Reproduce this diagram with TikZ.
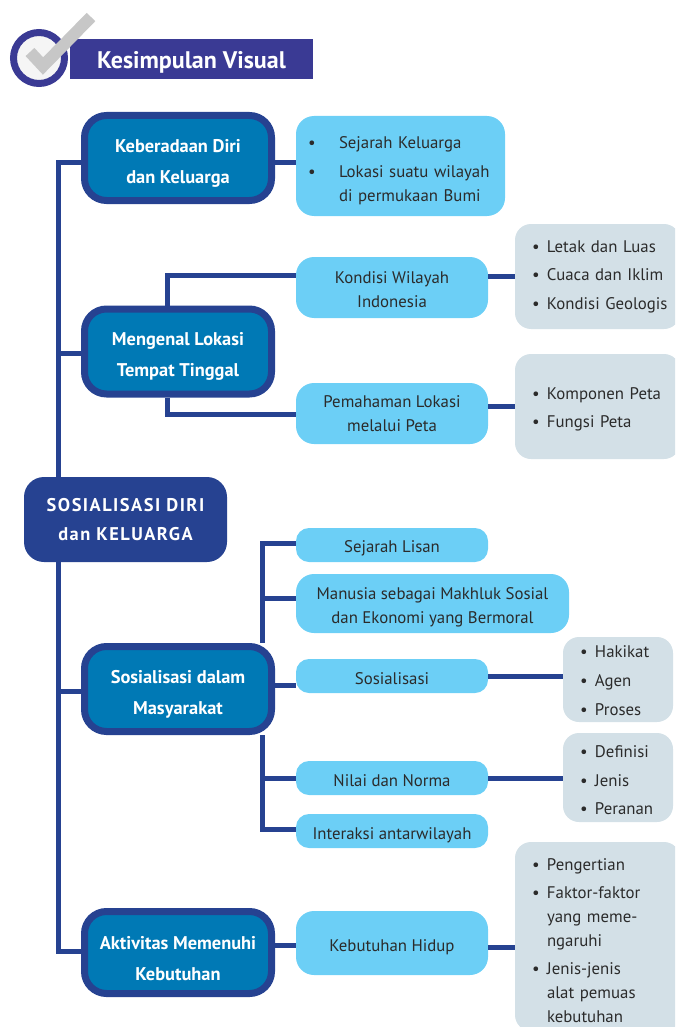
\documentclass[tikz,border=0pt]{standalone}
\usepackage{fontspec}
\setmainfont{PT Sans}
\definecolor{navy}{HTML}{264291}
\definecolor{banner}{HTML}{3A3A94}
\definecolor{teal}{HTML}{0079B5}
\definecolor{sky}{HTML}{6CCFF6}
\definecolor{mist}{HTML}{D3E0E7}
\definecolor{ink}{HTML}{2B2B2B}
\newcommand{\bul}{\hspace*{12pt}\makebox[15pt][l]{\textbullet}}
\newcommand{\ind}{\hspace*{27pt}}

\begin{document}
\begin{tikzpicture}[x=1pt,y=-1pt,
    link/.style={draw=navy,line width=5pt},
    drop/.style={execute at begin node={\rule{0pt}{#1pt}}},
    main node/.style={rounded corners=20pt,fill=navy,text=white,align=center,inner sep=0pt,minimum width=203pt,minimum height=85pt,font=\fontsize{18.4}{29}\selectfont\bfseries\addfontfeature{LetterSpace=8}},
    topic node/.style={rounded corners=22pt,fill=teal,draw=navy,line width=7pt,text=white,align=center,inner sep=0pt,minimum width=187pt,minimum height=85pt,drop=54,font=\fontsize{18.4}{31}\selectfont\bfseries},
    sub node/.style={rounded corners=13pt,fill=sky,text=ink,align=center,inner sep=0pt,minimum width=192pt,font=\fontsize{16.8}{24}\selectfont},
    list node/.style={rounded corners=16pt,fill=mist,text=ink,align=left,inner xsep=5pt,inner ysep=0pt,font=\fontsize{16.8}{24}\selectfont},
    wide list/.style={list node,text width=155pt},
    small list/.style={list node,text width=100pt}]
    \useasboundingbox (0,0) rectangle (675,1027);
    \clip (0,0) rectangle (675,1027);

    % heading
    \node[fill=banner,text=white,inner sep=0pt,minimum width=243pt,minimum height=40pt,drop=24,font=\fontsize{24}{28}\selectfont\bfseries] (banner) at (191.5,59) {Kesimpulan Visual};
    \node[circle,fill=white!96!black,draw=banner,line width=7pt,inner sep=0pt,minimum size=51pt] (tick) at (39,58) {};
    \draw[black!22,line width=12pt] (30,52) -- (43,66) -- (91,17);

    % centre and topics
    \node[main node] (root) at (125.5,519.5) {SOSIALISASI DIRI\\dan KELUARGA};
    \node[topic node] (diri) at (178,158) {Keberadaan Diri\\dan Keluarga};
    \node[topic node] (lokasi) at (178,351.5) {Mengenal Lokasi\\Tempat Tinggal};
    \node[topic node] (masyarakat) at (178,689) {Sosialisasi dalam\\Masyarakat};
    \node[topic node,minimum height=82pt,drop=56] (aktivitas) at (178,952.5) {Aktivitas Memenuhi\\Kebutuhan};

    % second level
    \node[sub node,align=left,minimum width=209pt,text width=209pt,minimum height=100pt,rounded corners=18pt,drop=22] (sejarah) at (400.5,166) {\hspace*{12pt}\makebox[31pt][l]{\textbullet}Sejarah Keluarga\\[5pt]
        \hspace*{12pt}\makebox[31pt][l]{\textbullet}Lokasi suatu wilayah\\
        \hspace*{43pt}di permukaan Bumi};
    \node[sub node,minimum height=61pt,rounded corners=18pt,drop=41] (kondisi) at (392,287.5) {Kondisi Wilayah\\Indonesia};
    \node[sub node,minimum height=61pt,rounded corners=18pt] (peta) at (392,413.5) {Pemahaman Lokasi\\melalui Peta};
    \node[sub node,minimum height=34pt,drop=18] (lisan) at (392,545) {Sejarah Lisan};
    \node[sub node,minimum width=273pt,minimum height=59pt,rounded corners=18pt,drop=43] (manusia) at (432.5,603.5) {Manusia sebagai Makhluk Sosial\\dan Ekonomi yang Bermoral};
    \node[sub node,minimum height=34pt,drop=18] (sosialisasi) at (392,676) {Sosialisasi};
    \node[sub node,minimum height=34pt,drop=18] (nilai) at (392,778) {Nilai dan Norma};
    \node[sub node,minimum height=34pt,drop=21] (interaksi) at (392,831) {Interaksi antarwilayah};
    \node[sub node,minimum height=64pt,rounded corners=18pt,drop=20] (hidup) at (392,943) {Kebutuhan Hidup};

    % third level
    \node[wide list,minimum height=105pt,font=\fontsize{16.8}{28.5}\selectfont] (wilayah) at (597.5,276.5) {\bul Letak dan Luas\\\bul Cuaca dan Iklim\\\bul Kondisi Geologis};
    \node[wide list,minimum height=105pt,drop=18,font=\fontsize{16.8}{28.5}\selectfont] (komponen) at (597.5,406.5) {\bul Komponen Peta\\\bul Fungsi Peta};
    \node[small list,minimum height=85pt,drop=14,font=\fontsize{16.8}{29}\selectfont] (hakikat) at (618,679.5) {\bul Hakikat\\\bul Agen\\\bul Proses};
    \node[small list,minimum height=89pt,drop=18,font=\fontsize{16.8}{28.5}\selectfont] (norma) at (618,777.5) {\bul Definisi\\\bul Jenis\\\bul Peranan};
    \node[wide list,minimum height=189pt,drop=20] (faktor) at (597.5,936.5) {\bul Pengertian\\[4pt]
        \bul Faktor-faktor\\\ind yang meme-\\\ind ngaruhi\\[4pt]
        \bul Jenis-jenis\\\ind alat pemuas\\\ind kebutuhan};

    % turning points of the lines
    \coordinate (t1) at (58,163);
    \coordinate (t2) at (58,353);
    \coordinate (t3) at (58,691);
    \coordinate (t4) at (58,951);
    \coordinate (b1) at (167,275);
    \coordinate (b2) at (167,414);
    \coordinate (c1) at (262,543);
    \coordinate (c2) at (262,598);
    \coordinate (c3) at (262,778);
    \coordinate (c4) at (262,829);
    \coordinate (r1) at (0,276);
    \coordinate (r2) at (0,406);
    \coordinate (r3) at (0,685);
    \coordinate (r4) at (0,676);
    \coordinate (r5) at (0,945);
    \coordinate (r6) at (0,947);

    \draw[link] (diri.west |- t1) -- (t1) -- (root.north -| t1);
    \draw[link] (root.south -| t4) -- (t4) -- (aktivitas.west |- t4);
    \draw[link] (lokasi.north -| b1) -- (b1) -- (kondisi.west |- b1);
    \draw[link] (lokasi.south -| b2) -- (b2) -- (peta.west |- b2);
    \draw[link] (lisan.west |- c1) -- (c1) -- (masyarakat.north -| c1);
    \draw[link] (masyarakat.south -| c4) -- (c4) -- (interaksi.west |- c4);

    \path[link]
        (t2) edge (lokasi.west |- t2)
        (t3) edge (masyarakat.west |- t3)
        (diri.east |- t1) edge (sejarah.west |- t1)
        (kondisi.east |- r1) edge (wilayah.west |- r1)
        (peta.east |- r2) edge (komponen.west |- r2)
        (c2) edge (manusia.west |- c2)
        (c3) edge (nilai.west |- c3)
        (masyarakat.east |- r3) edge (sosialisasi.west |- r3)
        (sosialisasi.east |- r4) edge (hakikat.west |- r4)
        (nilai.east |- c3) edge (norma.west |- c3)
        (aktivitas.east |- r5) edge (hidup.west |- r5)
        (hidup.east |- r6) edge (faktor.west |- r6)
    ;
\end{tikzpicture}
\end{document}
